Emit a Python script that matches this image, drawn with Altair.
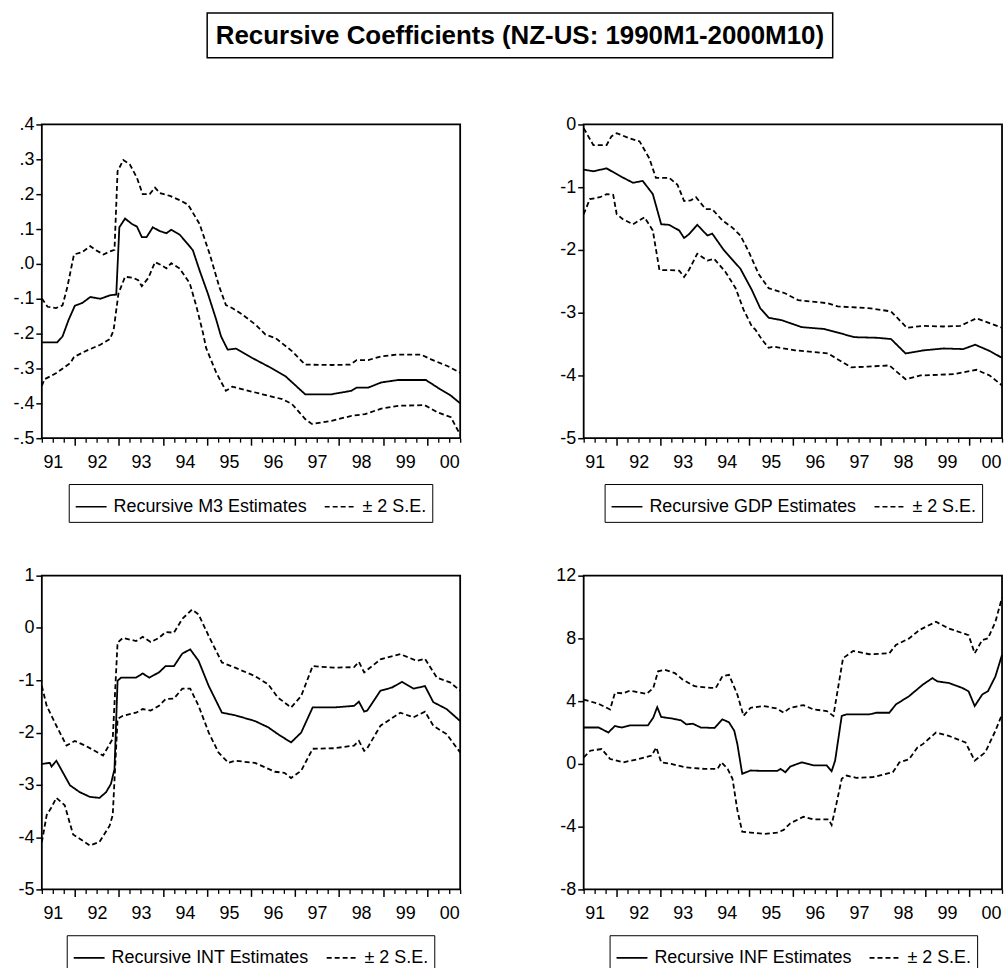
import altair as alt
import pandas as pd

FONT = "Liberation Sans"
TITLE = "Recursive Coefficients (NZ-US: 1990M1-2000M10)"
SE_LABEL = "± 2 S.E."

# ---------------- M3 ----------------
m3_est_t = [1991.25, 1991.60, 1991.72, 1991.86, 1992.0, 1992.17, 1992.35, 1992.58, 1992.80, 1992.94, 1993.01, 1993.14,
            1993.29, 1993.41, 1993.52, 1993.63, 1993.77, 1993.93, 1994.08, 1994.19, 1994.38, 1994.57, 1994.68, 1994.83,
            1995.02, 1995.21, 1995.32, 1995.47, 1995.66, 1996.03, 1996.48, 1996.78, 1997.23, 1997.83, 1998.28, 1998.40,
            1998.66, 1998.96, 1999.34, 1999.97, 2000.24, 2000.54, 2000.75]
m3_est_v = [-0.225, -0.225, -0.208, -0.16, -0.12, -0.112, -0.095, -0.10, -0.09, -0.088, 0.105, 0.13,
            0.115, 0.107, 0.077, 0.077, 0.105, 0.094, 0.088, 0.098, 0.084, 0.056, 0.039, -0.018,
            -0.085, -0.16, -0.208, -0.246, -0.243, -0.27, -0.30, -0.322, -0.374, -0.374, -0.364, -0.355,
            -0.355, -0.34, -0.333, -0.333, -0.355, -0.378, -0.40]
m3_up_t = [1991.25, 1991.38, 1991.57, 1991.72, 1991.83, 1991.98, 1992.17, 1992.35, 1992.47, 1992.65, 1992.80, 1992.90,
           1992.97, 1993.10, 1993.25, 1993.41, 1993.54, 1993.70, 1993.82, 1993.93, 1994.16, 1994.38, 1994.57, 1994.83,
           1995.06, 1995.28, 1995.43, 1995.58, 1995.81, 1996.11, 1996.33, 1996.56, 1996.93, 1997.23, 1997.83, 1998.25,
           1998.40, 1998.66, 1998.96, 1999.34, 1999.86, 2000.09, 2000.46, 2000.75]
m3_up_v = [-0.099, -0.123, -0.127, -0.119, -0.066, 0.027, 0.034, 0.051, 0.04, 0.027, 0.036, 0.04,
           0.266, 0.298, 0.285, 0.247, 0.20, 0.20, 0.219, 0.203, 0.195, 0.183, 0.17, 0.115,
           0.029, -0.066, -0.118, -0.127, -0.146, -0.175, -0.203, -0.213, -0.25, -0.289, -0.29, -0.289,
           -0.276, -0.276, -0.265, -0.26, -0.26, -0.274, -0.293, -0.312]
m3_lo_t = [1991.25, 1991.31, 1991.57, 1991.90, 1991.98, 1992.28, 1992.58, 1992.80, 1992.88, 1992.99, 1993.14, 1993.33,
           1993.44, 1993.52, 1993.67, 1993.82, 1993.97, 1994.08, 1994.19, 1994.38, 1994.61, 1994.76, 1994.91, 1994.98,
           1995.21, 1995.43, 1995.58, 1995.88, 1996.26, 1996.71, 1996.93, 1997.23, 1997.38, 1997.83, 1998.28, 1998.59,
           1998.96, 1999.34, 1999.94, 2000.24, 2000.54, 2000.75]
m3_lo_v = [-0.35, -0.331, -0.314, -0.284, -0.267, -0.248, -0.232, -0.215, -0.19, -0.085, -0.037, -0.04,
           -0.047, -0.064, -0.04, 0.005, -0.004, -0.013, 0.002, -0.013, -0.056, -0.122, -0.198, -0.241,
           -0.312, -0.364, -0.352, -0.362, -0.374, -0.388, -0.402, -0.445, -0.459, -0.45, -0.436, -0.431,
           -0.415, -0.407, -0.405, -0.426, -0.44, -0.49]

# ---------------- GDP ----------------
gdp_est_t = [1991.25, 1991.47, 1991.77, 1992.11, 1992.37, 1992.59, 1992.82, 1993.01, 1993.19, 1993.42, 1993.53, 1993.64,
             1993.83, 1994.06, 1994.17, 1994.43, 1994.81, 1995.07, 1995.26, 1995.45, 1995.75, 1996.20, 1996.72, 1997.40,
             1997.92, 1998.23, 1998.56, 1998.97, 1999.42, 1999.87, 2000.14, 2000.47, 2000.75]
gdp_est_v = [-0.72, -0.746, -0.70, -0.835, -0.93, -0.90, -1.11, -1.59, -1.60, -1.69, -1.81, -1.75,
             -1.60, -1.77, -1.74, -2.0, -2.30, -2.64, -2.93, -3.08, -3.12, -3.23, -3.26, -3.39,
             -3.40, -3.42, -3.65, -3.60, -3.57, -3.58, -3.51, -3.61, -3.72]
gdp_up_t = [1991.25, 1991.47, 1991.77, 1991.88, 1992.0, 1992.29, 1992.52, 1992.74, 1992.89, 1993.19, 1993.38, 1993.53,
            1993.68, 1993.80, 1994.02, 1994.17, 1994.40, 1994.62, 1994.81, 1995.0, 1995.22, 1995.45, 1995.82, 1996.12,
            1996.80, 1997.02, 1997.77, 1998.23, 1998.59, 1998.97, 1999.42, 1999.80, 2000.17, 2000.75]
gdp_up_v = [-0.06, -0.33, -0.33, -0.19, -0.14, -0.22, -0.27, -0.54, -0.85, -0.85, -0.96, -1.22,
            -1.21, -1.16, -1.35, -1.35, -1.53, -1.64, -1.77, -2.03, -2.38, -2.61, -2.69, -2.80,
            -2.85, -2.90, -2.93, -2.98, -3.24, -3.21, -3.22, -3.21, -3.09, -3.24]
gdp_lo_t = [1991.25, 1991.39, 1991.62, 1991.77, 1991.92, 1992.0, 1992.14, 1992.37, 1992.63, 1992.82, 1992.97, 1993.19,
            1993.42, 1993.53, 1993.64, 1993.83, 1994.06, 1994.21, 1994.47, 1994.70, 1994.88, 1995.07, 1995.15, 1995.30,
            1995.45, 1995.56, 1996.05, 1996.80, 1997.32, 1997.70, 1998.19, 1998.56, 1998.90, 1999.65, 2000.17, 2000.47,
            2000.75]
gdp_lo_v = [-1.43, -1.19, -1.16, -1.11, -1.12, -1.43, -1.51, -1.59, -1.48, -1.69, -2.32, -2.32,
            -2.33, -2.43, -2.32, -2.06, -2.17, -2.14, -2.35, -2.61, -2.95, -3.22, -3.27, -3.43,
            -3.56, -3.54, -3.60, -3.65, -3.87, -3.86, -3.84, -4.06, -4.0, -3.98, -3.91, -4.0,
            -4.16]

# ---------------- INT ----------------
int_est_t = [1991.25, 1991.43, 1991.47, 1991.58, 1991.89, 1992.11, 1992.34, 1992.56, 1992.71, 1992.82, 1992.90, 1992.97,
             1993.05, 1993.39, 1993.54, 1993.69, 1993.91, 1994.06, 1994.25, 1994.44, 1994.62, 1994.81, 1995.04, 1995.34,
             1995.64, 1996.09, 1996.39, 1996.61, 1996.91, 1997.14, 1997.40, 1997.89, 1998.34, 1998.45, 1998.57, 1998.64,
             1998.94, 1999.20, 1999.43, 1999.69, 1999.80, 1999.95, 2000.14, 2000.44, 2000.75]
int_est_v = [-2.6, -2.58, -2.65, -2.54, -3.01, -3.14, -3.23, -3.25, -3.14, -2.98, -2.70, -1.01,
             -0.95, -0.95, -0.87, -0.95, -0.85, -0.73, -0.73, -0.49, -0.41, -0.63, -1.11, -1.62,
             -1.67, -1.78, -1.90, -2.03, -2.19, -2.0, -1.52, -1.52, -1.49, -1.41, -1.60, -1.58,
             -1.20, -1.14, -1.03, -1.16, -1.14, -1.11, -1.42, -1.55, -1.78]
int_up_t = [1991.25, 1991.36, 1991.58, 1991.81, 1992.0, 1992.26, 1992.64, 1992.86, 1992.97, 1993.09, 1993.39, 1993.54,
            1993.72, 1993.91, 1994.06, 1994.25, 1994.44, 1994.66, 1994.81, 1995.04, 1995.34, 1995.64, 1996.09, 1996.39,
            1996.61, 1996.91, 1997.14, 1997.40, 1997.89, 1998.34, 1998.45, 1998.57, 1998.94, 1999.39, 1999.77, 1999.95,
            2000.22, 2000.52, 2000.75]
int_up_v = [-1.11, -1.49, -1.87, -2.25, -2.16, -2.26, -2.44, -2.12, -0.28, -0.19, -0.25, -0.17,
            -0.27, -0.19, -0.08, -0.09, 0.175, 0.35, 0.26, -0.156, -0.66, -0.76, -0.92, -1.08,
            -1.33, -1.52, -1.30, -0.73, -0.76, -0.75, -0.65, -0.85, -0.60, -0.50, -0.63, -0.59,
            -0.95, -1.04, -1.20]
int_lo_t = [1991.25, 1991.36, 1991.47, 1991.58, 1991.77, 1991.96, 1992.11, 1992.34, 1992.56, 1992.79, 1992.86, 1992.97,
            1993.09, 1993.39, 1993.54, 1993.72, 1993.91, 1994.06, 1994.25, 1994.44, 1994.62, 1994.81, 1995.04, 1995.26,
            1995.49, 1995.64, 1996.09, 1996.54, 1996.76, 1996.91, 1997.14, 1997.40, 1997.89, 1998.34, 1998.45, 1998.57,
            1998.64, 1998.94, 1999.39, 1999.69, 1999.95, 2000.14, 2000.44, 2000.75]
int_lo_v = [-4.1, -3.58, -3.43, -3.25, -3.39, -3.95, -4.03, -4.16, -4.09, -3.78, -3.58, -1.74,
            -1.68, -1.62, -1.55, -1.58, -1.49, -1.36, -1.35, -1.16, -1.16, -1.49, -2.0, -2.38,
            -2.58, -2.54, -2.58, -2.75, -2.77, -2.87, -2.73, -2.31, -2.30, -2.25, -2.16, -2.35,
            -2.30, -1.87, -1.62, -1.71, -1.60, -1.87, -2.03, -2.38]

# ---------------- INF ----------------
inf_est_t = [1991.25, 1991.59, 1991.81, 1991.96, 1992.11, 1992.30, 1992.71, 1992.83, 1992.92, 1993.01, 1993.24, 1993.46,
             1993.58, 1993.73, 1993.91, 1994.22, 1994.40, 1994.55, 1994.67, 1994.74, 1994.85, 1995.04, 1995.34, 1995.64,
             1995.72, 1995.83, 1995.94, 1996.20, 1996.47, 1996.77, 1996.88, 1996.96, 1997.11, 1997.22, 1997.74, 1997.89,
             1998.19, 1998.34, 1998.64, 1998.95, 1999.17, 1999.28, 1999.54, 1999.85, 1999.99, 2000.13, 2000.30, 2000.43,
             2000.60, 2000.75]
inf_est_v = [2.32, 2.32, 2.0, 2.42, 2.32, 2.46, 2.46, 2.95, 3.62, 2.99, 2.90, 2.78,
             2.52, 2.56, 2.32, 2.29, 2.84, 2.65, 2.11, 1.26, -0.63, -0.42, -0.45, -0.45,
             -0.32, -0.53, -0.17, 0.10, -0.10, -0.10, -0.47, 0.21, 3.06, 3.16, 3.16, 3.26,
             3.26, 3.79, 4.32, 5.05, 5.47, 5.26, 5.16, 4.84, 4.63, 3.69, 4.42, 4.63,
             5.58, 6.95]
inf_up_t = [1991.25, 1991.59, 1991.85, 1991.96, 1992.15, 1992.30, 1992.68, 1992.83, 1992.94, 1993.09, 1993.32, 1993.50,
            1993.77, 1994.14, 1994.25, 1994.40, 1994.55, 1994.74, 1994.88, 1995.04, 1995.34, 1995.64, 1995.79, 1995.94,
            1996.24, 1996.47, 1996.77, 1996.92, 1997.14, 1997.37, 1997.74, 1998.19, 1998.34, 1998.64, 1998.87, 1999.25,
            1999.54, 1999.99, 2000.13, 2000.30, 2000.43, 2000.60, 2000.75]
inf_up_v = [4.10, 3.83, 3.47, 4.53, 4.5, 4.67, 4.46, 4.84, 5.90, 6.0, 5.79, 5.37,
            4.95, 4.84, 4.84, 5.58, 5.68, 4.42, 3.06, 3.58, 3.69, 3.53, 3.26, 3.58,
            3.75, 3.47, 3.37, 3.06, 6.74, 7.20, 6.99, 7.05, 7.58, 8.0, 8.53, 9.06,
            8.63, 8.21, 7.05, 7.9, 8.0, 9.06, 10.6]
inf_lo_t = [1991.25, 1991.40, 1991.66, 1991.85, 1992.15, 1992.49, 1992.79, 1992.90, 1993.01, 1993.24, 1993.54, 1993.99,
            1994.29, 1994.38, 1994.52, 1994.63, 1994.74, 1994.85, 1995.04, 1995.34, 1995.64, 1995.79, 1995.94, 1996.24,
            1996.47, 1996.81, 1996.88, 1996.99, 1997.11, 1997.22, 1997.44, 1997.82, 1998.27, 1998.42, 1998.64, 1998.83,
            1998.95, 1999.25, 1999.54, 1999.92, 2000.13, 2000.37, 2000.60, 2000.75]
inf_lo_v = [0.42, 0.84, 0.95, 0.31, 0.10, 0.31, 0.53, 1.05, 0.10, 0.0, -0.21, -0.32,
            -0.32, 0.10, -0.32, -0.95, -2.95, -4.32, -4.38, -4.46, -4.38, -4.21, -3.79, -3.37,
            -3.54, -3.54, -3.89, -2.53, -0.95, -0.74, -0.89, -0.84, -0.53, 0.10, 0.30, 1.05,
            1.26, 2.0, 1.79, 1.37, 0.21, 0.74, 2.11, 3.16]

# ---------------- axis tick positions ----------------
X_DOMAIN = [1991.25, 2000.75]
YEAR_STARTS = [1992, 1993, 1994, 1995, 1996, 1997, 1998, 1999, 2000]
MID_YEARS = [1991.5, 1992.5, 1993.5, 1994.5, 1995.5, 1996.5, 1997.5, 1998.5, 1999.5, 2000.5]
QUARTERS = [1991.25, 1991.5, 1991.75, 1992.25, 1992.5, 1992.75, 1993.25, 1993.5, 1993.75, 1994.25, 1994.5, 1994.75,
            1995.25, 1995.5, 1995.75, 1996.25, 1996.5, 1996.75, 1997.25, 1997.5, 1997.75, 1998.25, 1998.5, 1998.75,
            1999.25, 1999.5, 1999.75, 2000.25, 2000.5, 2000.75]

W, H = 420, 315
LAB = 18


def build_df(est_t, est_v, up_t, up_v, lo_t, lo_v, est_label):
    rows = []
    for t, v in zip(est_t, est_v):
        rows.append({"t": t, "v": v, "line": "est", "series": est_label})
    for t, v in zip(up_t, up_v):
        rows.append({"t": t, "v": v, "line": "up", "series": SE_LABEL})
    for t, v in zip(lo_t, lo_v):
        rows.append({"t": t, "v": v, "line": "lo", "series": SE_LABEL})
    return pd.DataFrame(rows)


def panel(df, est_label, y_domain, y_values, y_label_expr, legend_x, title=False):
    xs = alt.Scale(domain=X_DOMAIN, nice=False, zero=False)
    ys = alt.Scale(domain=y_domain, nice=False, zero=False)
    y_enc = alt.Y("v:Q", scale=ys, axis=alt.Axis(
        values=y_values, title=None, grid=False, domain=False, tickSize=6,
        tickColor="black", tickWidth=1.5, labelPadding=2, labelFontSize=LAB,
        labelFont=FONT, labelColor="black", labelExpr=y_label_expr))

    lines = alt.Chart(df).mark_line(color="black", strokeWidth=1.8).encode(
        x=alt.X("t:Q", scale=xs,
                axis=alt.Axis(orient="bottom", values=MID_YEARS, title=None, grid=False, domain=False,
                              ticks=False, tickSize=0, labelPadding=15, labelFontSize=LAB, labelFont=FONT,
                              labelColor="black",
                              labelExpr="substring(toString(floor(datum.value)), 2)")),
        y=y_enc,
        strokeDash=alt.StrokeDash(
            "series:N",
            scale=alt.Scale(domain=[est_label, SE_LABEL], range=[[1, 0], [5, 3]]),
            legend=alt.Legend(orient="none", legendX=legend_x, legendY=361, direction="horizontal",
                              title=None, strokeColor="black", padding=6, symbolType="stroke",
                              symbolSize=961, symbolStrokeWidth=1.6, symbolStrokeColor="black",
                              labelFontSize=LAB, labelFont=FONT, labelColor="black", labelOffset=6,
                              labelLimit=500, columnPadding=13, fillColor="white")),
        detail="line:N",
        order="t:Q",
    )
    major = alt.Chart(df).mark_line(opacity=0).encode(
        x=alt.X("t:Q", scale=xs,
                axis=alt.Axis(orient="bottom", values=YEAR_STARTS, title=None, grid=False, domain=False,
                              labels=False, tickSize=7, tickColor="black", tickWidth=1.5)),
        y=y_enc, detail="line:N",
    )
    minor = alt.Chart(df).mark_line(opacity=0).encode(
        x=alt.X("t:Q", scale=xs,
                axis=alt.Axis(orient="bottom", values=QUARTERS, title=None, grid=False, domain=False,
                              labels=False, tickSize=4, tickColor="black", tickWidth=1.3)),
        y=y_enc, detail="line:N",
    )
    layers = [lines, major, minor]
    if title:
        tdf = pd.DataFrame({"label": [TITLE]})
        box = alt.Chart(tdf).mark_rect(fill="white", stroke="black", strokeWidth=1.5).encode(
            x=alt.value(166), x2=alt.value(794), y=alt.value(-112), y2=alt.value(-67))
        txt = alt.Chart(tdf).mark_text(font=FONT, fontSize=26, fontWeight="bold", align="center",
                                       baseline="middle", color="black").encode(
            text="label:N", x=alt.value(480), y=alt.value(-89))
        layers += [box, txt]
    return alt.layer(*layers).resolve_axis(x="independent").properties(width=W, height=H)


M3_FMT = "replace(replace(format(datum.value, '.1f'), '\u2212', '-'), '0.', '.')"
INT_FMT = "replace(format(datum.value, 'd'), '\u2212', '-')"

m3 = panel(build_df(m3_est_t, m3_est_v, m3_up_t, m3_up_v, m3_lo_t, m3_lo_v, "Recursive M3 Estimates"),
           "Recursive M3 Estimates", [-0.5, 0.4],
           [-0.5, -0.4, -0.3, -0.2, -0.1, 0.0, 0.1, 0.2, 0.3, 0.4], M3_FMT, 27, title=True)
gdp = panel(build_df(gdp_est_t, gdp_est_v, gdp_up_t, gdp_up_v, gdp_lo_t, gdp_lo_v, "Recursive GDP Estimates"),
            "Recursive GDP Estimates", [-5, 0], [-5, -4, -3, -2, -1, 0], INT_FMT, 21)
intp = panel(build_df(int_est_t, int_est_v, int_up_t, int_up_v, int_lo_t, int_lo_v, "Recursive INT Estimates"),
             "Recursive INT Estimates", [-5, 1], [-5, -4, -3, -2, -1, 0, 1], INT_FMT, 25)
inf = panel(build_df(inf_est_t, inf_est_v, inf_up_t, inf_up_v, inf_lo_t, inf_lo_v, "Recursive INF Estimates"),
            "Recursive INF Estimates", [-8, 12], [-8, -4, 0, 4, 8, 12], INT_FMT, 26)

chart = alt.concat(
    m3, gdp, intp, inf, columns=2, spacing={"row": 138, "column": 124}, bounds="flush"
).resolve_scale(
    strokeDash="independent"
).configure(
    padding={"left": 12, "top": 9, "right": 0, "bottom": 0},
    font=FONT,
    background="white",
).configure_view(stroke="black", strokeWidth=1.8)

chart.save("out.html", embed_options={"renderer": "svg", "actions": False})
